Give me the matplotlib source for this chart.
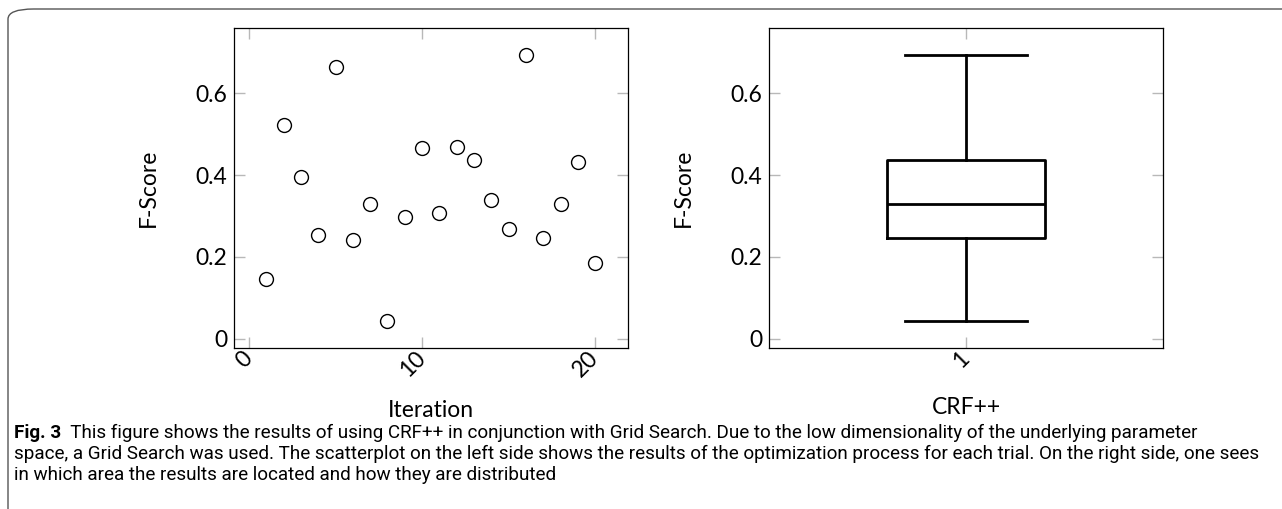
import matplotlib
matplotlib.use("Agg")
import matplotlib.pyplot as plt
import numpy as np
from matplotlib.patches import FancyBboxPatch
from matplotlib import cbook

# data (F-score per grid search trial)
iterations = np.arange(1, 21)
fscores = [0.147, 0.522, 0.396, 0.253, 0.665, 0.241, 0.329, 0.042, 0.298, 0.467,
           0.308, 0.469, 0.438, 0.339, 0.269, 0.693, 0.247, 0.329, 0.431, 0.186]
box_label = "1"
x_ticks = [0, 10, 20]
y_ticks = [0, 0.2, 0.4, 0.6]
y_ticklabels = ["0", "0.2", "0.4", "0.6"]

caption_bold = "Fig. 3"
caption_lines = [
    "  This figure shows the results of using CRF++ in conjunction with Grid Search. Due to the low dimensionality of the underlying parameter",
    "space, a Grid Search was used. The scatterplot on the left side shows the results of the optimization process for each trial. On the right side, one sees",
    "in which area the results are located and how they are distributed",
]

axfont = "Lato"
capfont = ["Roboto", "DejaVu Sans"]

fig = plt.figure(figsize=(12.82, 5.09), dpi=100)

# rounded frame around the figure
frame = FancyBboxPatch((8 / 1282, -0.2), 1.2, 1.2 - 9 / 509,
                       boxstyle="round,pad=0,rounding_size=0.02",
                       transform=fig.transFigure, fill=False,
                       edgecolor="#555555", linewidth=1.0, mutation_aspect=509 / 1282 * 2.5)
fig.patches.append(frame)


def style_axes(ax):
    for s in ax.spines.values():
        s.set_linewidth(0.9)
        s.set_color("black")
    ax.tick_params(which="both", direction="in", length=8, width=1, color="#b8b8b8",
                   top=True, right=True, labelsize=16.5, pad=5)
    ax.set_ylim(-0.023, 0.76)
    ax.set_yticks(y_ticks)
    ax.set_yticklabels(y_ticklabels, fontfamily=axfont)
    ax.set_ylabel("F-Score", fontsize=16.5, fontfamily=axfont, labelpad=26)


# left: scatter
ax1 = fig.add_axes([234 / 1282, 1 - 348 / 509, 394 / 1282, 320 / 509])
ax1.plot(iterations, fscores, linestyle="none", marker="o", markersize=10,
         markerfacecolor="white", markeredgecolor="black", markeredgewidth=1.0)
style_axes(ax1)
ax1.set_xlim(-0.87, 21.9)
ax1.set_xticks(x_ticks)
ax1.set_xticklabels([str(t) for t in x_ticks], rotation=45, ha="right", va="center",
                    rotation_mode="anchor", fontfamily=axfont)
ax1.set_xlabel("Iteration", fontsize=16.5, fontfamily=axfont, labelpad=14)

# right: box plot (quartiles like pgfplots, whiskers at min/max)
stats = cbook.boxplot_stats(np.array(fscores), whis=(0, 100))[0]
stats["q1"] = np.percentile(fscores, 25, method="inverted_cdf")
stats["q3"] = np.percentile(fscores, 75, method="inverted_cdf")
stats["fliers"] = []

ax2 = fig.add_axes([769 / 1282, 1 - 348 / 509, 394 / 1282, 320 / 509])
lw = 2.0
ax2.bxp([stats], positions=[1], widths=0.4, showfliers=False, capwidths=0.31,
        boxprops=dict(linewidth=lw, color="black"),
        medianprops=dict(linewidth=lw, color="black"),
        whiskerprops=dict(linewidth=lw, color="black"),
        capprops=dict(linewidth=lw, color="black"))
style_axes(ax2)
ax2.set_xlim(0.5, 1.5)
ax2.set_xticks([1])
ax2.set_xticklabels([box_label], rotation=45, ha="right", va="center",
                    rotation_mode="anchor", fontfamily=axfont)
ax2.set_xlabel("CRF++", fontsize=16.5, fontfamily=axfont, labelpad=18)

# caption, size fitted so the long second line spans the frame like the original
fig.canvas.draw()
r = fig.canvas.get_renderer()
cap_size = 11.5
probe = fig.text(0, 0, caption_lines[1], fontsize=cap_size, family=capfont)
w = probe.get_window_extent(r).width
probe.remove()
cap_size = cap_size * 1258 / w

ys = [433, 454, 475]
t = fig.text(14 / 1282, 1 - ys[0] / 509, caption_bold, fontsize=cap_size, fontweight="bold",
             family=capfont, va="center", ha="left")
bb = t.get_window_extent(r)
fig.text(bb.x1 / fig.bbox.width, 1 - ys[0] / 509, caption_lines[0], fontsize=cap_size,
         family=capfont, va="center", ha="left")
fig.text(14 / 1282, 1 - ys[1] / 509, caption_lines[1], fontsize=cap_size,
         family=capfont, va="center", ha="left")
fig.text(14 / 1282, 1 - ys[2] / 509, caption_lines[2], fontsize=cap_size,
         family=capfont, va="center", ha="left")

fig.savefig("out.png", dpi=100)
